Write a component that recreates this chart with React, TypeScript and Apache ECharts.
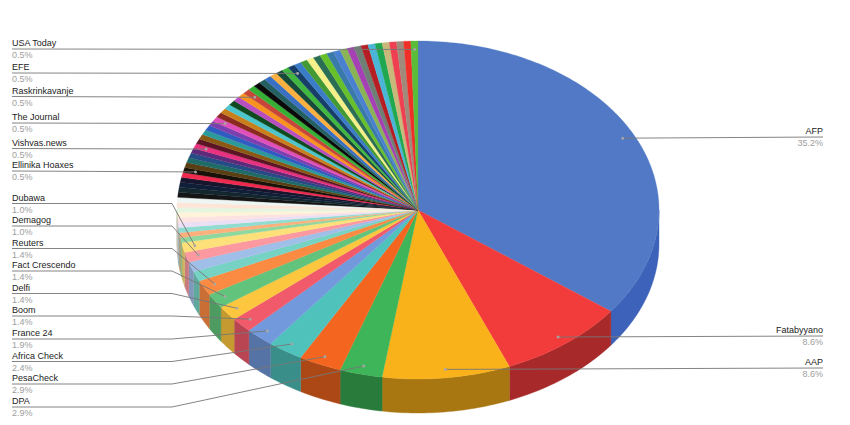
import React, { useEffect, useRef } from "react";
import * as echarts from "echarts";

const sliceValues = [
  74, 18, 18, 6, 6, 5, 4, 3, 3, 3, 3, 2, 2, 2, 2, 1, 1, 1,
  1, 1, 1, 1, 1, 1,
  1, 1, 1, 1, 1, 1, 1, 1, 1, 1, 1, 1, 1, 1, 1, 1, 1, 1, 1, 1, 1, 1, 1, 1, 1,
  1, 1, 1, 1, 1, 1, 1, 1, 1, 1, 1, 1, 1, 1, 1, 1, 1, 1, 1, 1, 1, 1, 1, 1, 1,
];

const sliceColours = [
  "#5179c5", "#f23b3b", "#fab21a", "#3db558", "#f4661f", "#4fc2bc", "#7299dc", "#f05a6a", "#fcc73f",
  "#62c47c", "#fb8a42", "#76d3c4", "#a0bfe8", "#fb98a0", "#fde07a", "#8ed8a0", "#fdb07c", "#90dcd0",
  "#eadff5", "#fde2e2", "#fff3da", "#e6f5df", "#fde5d8", "#eef6f3",
  "#151515", "#14262e", "#101f38", "#17162e",
  "#f0294f", "#1a1208", "#5b3f14", "#1f6b66", "#254c85", "#5e2a7a", "#e8317f", "#5c1525", "#8a5a15",
  "#2c9a9a", "#2e5cc0", "#7b3fb0", "#e050b8", "#8a2a20", "#c9801c", "#4cc5cc", "#0f4a20", "#b84fc0",
  "#f9931f", "#c8453a", "#35b035", "#0a0a0a", "#256060", "#3a70c4", "#fbb040", "#174a3a", "#40b840",
  "#163e66", "#3a7cc8", "#439a35", "#f5f08a", "#2a6e55", "#66c02a", "#3a7aa8", "#4a80d0", "#8ab356",
  "#a540b5", "#6e8075", "#b51f24", "#4bb5d8", "#20a850", "#c8b87a", "#ee4050", "#a08a7c", "#f03028",
  "#5abc38",
];

const labelNames = [
  "AFP", "Fatabyyano", "AAP", "DPA", "PesaCheck", "Africa Check", "France 24", "Boom", "Delfi",
  "Fact Crescendo", "Reuters", "Demagog", "Dubawa", "Ellinika Hoaxes", "Vishvas.news", "The Journal",
  "Raskrinkavanje", "EFE", "USA Today",
];
const labelSliceIndex = [0, 1, 2, 3, 4, 5, 6, 7, 8, 9, 10, 13, 14, 29, 34, 40, 47, 55, 73];
const labelLineY = [137, 336, 368, 407, 384, 361.5, 339, 316, 293.5, 271, 248.5, 226, 203.5, 171, 148.5, 123, 96.5, 73, 49];

const CX = 418;
const CY = 210;
const RX = 241;
const RY = 169;
const DEPTH = 34;
const LEADER_K = 0.95;
const LEFT_X = 12;
const RIGHT_X = 823;
const ELBOW_X = 172;
const FONT_SIZE = 9;
const FONT_FAMILY = "Liberation Sans";

const total = sliceValues.reduce((a, b) => a + b, 0);
const startAngles: number[] = [];
sliceValues.reduce((acc, v, i) => {
  startAngles[i] = acc;
  return acc + (v / total) * 360;
}, 0);
const sweep = (i: number) => (sliceValues[i] / total) * 360;
const rad = (deg: number) => (deg * Math.PI) / 180;
const rimPoint = (deg: number, k = 1, dy = 0): [number, number] => [
  CX + RX * k * Math.sin(rad(deg)),
  CY - RY * k * Math.cos(rad(deg)) + dy,
];
const arc = (a0: number, a1: number, dy = 0) => {
  const n = Math.max(2, Math.ceil((a1 - a0) / 1));
  const pts: [number, number][] = [];
  for (let j = 0; j <= n; j++) pts.push(rimPoint(a0 + ((a1 - a0) * j) / n, 1, dy));
  return pts;
};

function wallColour(hex: string, mid: number) {
  const n = parseInt(hex.slice(1), 16);
  const rgb = [(n >> 16) & 255, (n >> 8) & 255, n & 255];
  let f = [0.66, 0.66, 0.66];
  if (mid < 130) f = [0.74, 0.81, 0.94];
  else {
    const t = Math.min(1, Math.max(0, (Math.abs(mid - 170) - 20) / 50));
    const v = 0.67 + t * 0.13;
    f = [v, v, v];
  }
  return `rgb(${rgb.map((c, i) => Math.round(c * f[i])).join(",")})`;
}

function renderSlice(params: any) {
  const i = params.dataIndex;
  const a0 = startAngles[i];
  const a1 = a0 + sweep(i);
  const colour = sliceColours[i];
  const children: any[] = [];
  const w0 = Math.max(a0, 90);
  const w1 = Math.min(a1, 270);
  if (w1 > w0) {
    const wall = wallColour(colour, (w0 + w1) / 2);
    children.push({
      type: "polygon",
      shape: { points: [...arc(w0, w1), ...arc(w0, w1, DEPTH).reverse()] },
      style: { fill: wall, stroke: wall, lineWidth: 0.4 },
    });
  }
  children.push({
    type: "polygon",
    shape: { points: [[CX, CY], ...arc(a0, a1)] },
    style: { fill: colour, stroke: colour, lineWidth: 0.3 },
  });
  return { type: "group", children };
}

function renderLabel(params: any) {
  const i = params.dataIndex;
  const s = labelSliceIndex[i];
  const mid = startAngles[s] + sweep(s) / 2;
  const [dx, dy] = rimPoint(mid, LEADER_K);
  const y = labelLineY[i];
  const right = mid < 180;
  const nearFlat = Math.abs(dy - y) < 3;
  const pts: [number, number][] = right
    ? [[dx, dy], [RIGHT_X, y]]
    : nearFlat
      ? [[LEFT_X, y], [dx, dy]]
      : [[LEFT_X, y], [ELBOW_X, y], [dx, dy]];
  const tx = right ? RIGHT_X : LEFT_X;
  const align = right ? "right" : "left";
  const pct = ((sliceValues[s] / total) * 100).toFixed(1) + "%";
  const textStyle = { fontSize: FONT_SIZE, fontFamily: FONT_FAMILY, textAlign: align, textVerticalAlign: "middle" };
  return {
    type: "group",
    children: [
      { type: "polyline", shape: { points: pts }, style: { stroke: "#777777", lineWidth: 1, fill: "none", opacity: 0.9 } },
      { type: "circle", shape: { cx: dx, cy: dy, r: 1.5 }, style: { fill: "#a8a8a8", opacity: 0.9 } },
      { type: "text", style: { ...textStyle, text: labelNames[i], x: tx, y: y - 6, fill: "#222222" } },
      { type: "text", style: { ...textStyle, text: pct, x: tx, y: y + 6, fill: "#9e9e9e" } },
    ],
  };
}

export default function App() {
  const ref = useRef<HTMLDivElement>(null);
  useEffect(() => {
    const chart = echarts.init(ref.current!, undefined, { renderer: "svg" });
    chart.setOption({
      animation: false,
      backgroundColor: "#ffffff",
      series: [
        {
          type: "custom",
          coordinateSystem: "none",
          silent: true,
          z: 1,
          renderItem: renderSlice,
          data: sliceValues.map((v) => [v]),
        },
        {
          type: "custom",
          coordinateSystem: "none",
          silent: true,
          z: 2,
          renderItem: renderLabel,
          data: labelNames.map((n) => [n]),
          encode: { value: [] },
        },
      ],
    });
    return () => chart.dispose();
  }, []);
  return <div ref={ref} style={{ position: "fixed", left: 0, top: 0, width: 850, height: 425 }} />;
}
